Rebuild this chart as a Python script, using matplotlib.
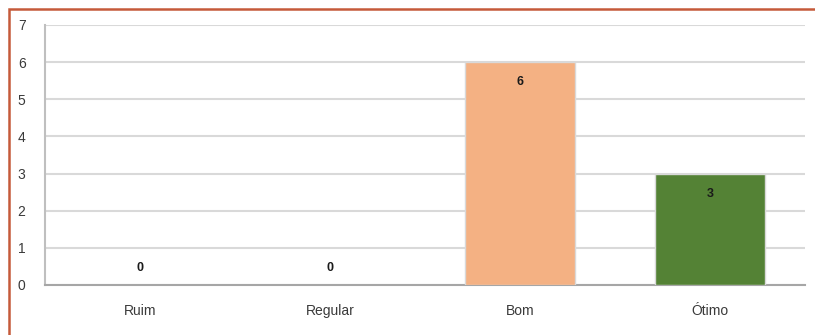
import matplotlib
matplotlib.use("Agg")
import matplotlib.pyplot as plt
from matplotlib.patches import Rectangle

categories = ["Ruim", "Regular", "Bom", "Ótimo"]
values = [0, 0, 6, 3]
colors = ["#F4B183", "#F4B183", "#F4B183", "#548235"]
y_ticks = [0, 1, 2, 3, 4, 5, 6, 7]

plt.rcParams["font.family"] = ["Liberation Sans", "DejaVu Sans"]

W, H = 815, 335
fig = plt.figure(figsize=(W / 100, H / 100), dpi=100)
ax = fig.add_axes([45 / W, 50 / H, 760 / W, 260 / H])

x = list(range(len(categories)))
edge_widths = [1.0 if v > 0 else 0 for v in values]
ax.bar(x, values, width=0.58, color=colors, edgecolor="#D9D9D9",
       linewidth=edge_widths, zorder=3)

ax.set_xlim(-0.5, len(categories) - 0.5)
ax.set_ylim(0, 7)
ax.set_yticks(y_ticks)
ax.set_xticks(x)
ax.set_xticklabels(categories)
ax.tick_params(axis="both", length=0, labelsize=10, labelcolor="#3a3a3a")
ax.tick_params(axis="y", pad=14)
ax.tick_params(axis="x", pad=14)

ax.yaxis.grid(True, color="#D9D9D9", linewidth=1.5, zorder=0)
ax.set_axisbelow(True)
for side in ["top", "right"]:
    ax.spines[side].set_visible(False)
ax.spines["left"].set_color("#BFBFBF")
ax.spines["left"].set_linewidth(1.5)
ax.spines["bottom"].set_color("#A6A6A6")
ax.spines["bottom"].set_linewidth(1.5)

for xi, v in zip(x, values):
    offset = -14.5 if v > 0 else 12
    ax.annotate(str(v), (xi, v), xytext=(0, offset), textcoords="offset points",
                ha="center", va="center", fontsize=9, fontweight="bold",
                color="#1a1a1a", zorder=4)

# frame around the chart area (top and left edges visible)
fig.patches.append(Rectangle((9 / W, -0.1), 1.2, (H - 9) / H + 0.1,
                             transform=fig.transFigure, fill=False,
                             edgecolor="#C55A3A", linewidth=1.8))

fig.savefig("out.png", dpi=100)
